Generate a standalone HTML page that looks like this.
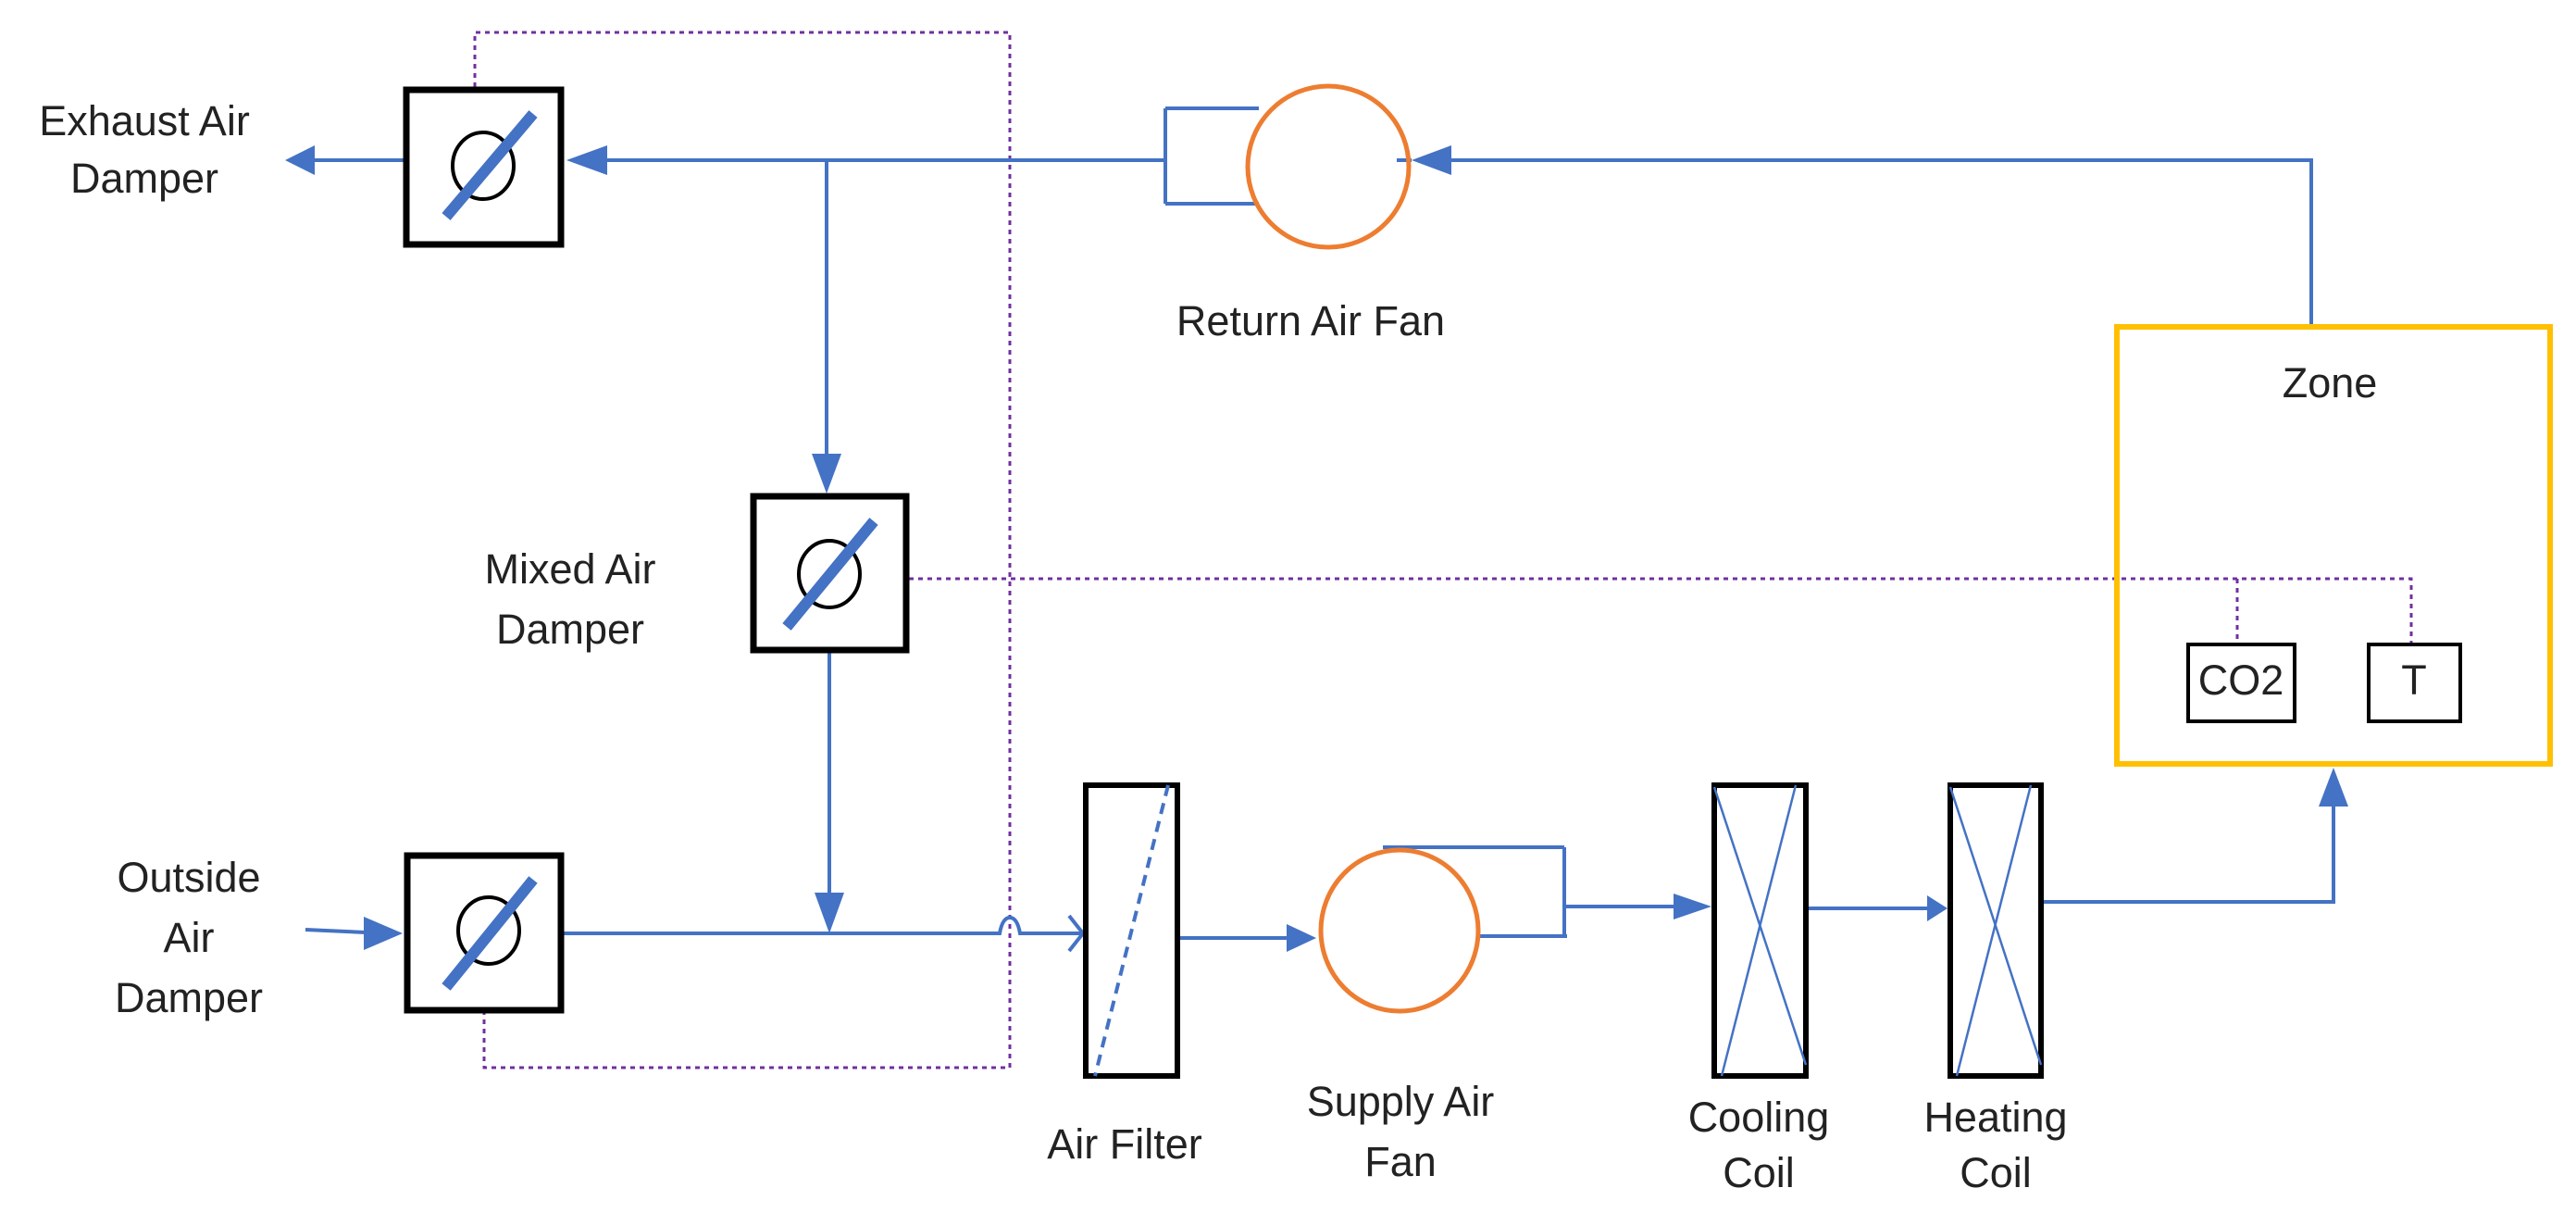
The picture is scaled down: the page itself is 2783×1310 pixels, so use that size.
<!DOCTYPE html>
<html><head><meta charset="utf-8"><style>
html,body{margin:0;padding:0;background:#fff}
svg{display:block}
text{font-family:"Liberation Sans",sans-serif;font-size:45px;fill:#222;text-anchor:middle;dominant-baseline:middle}
</style></head><body>
<svg width="2783" height="1310" viewBox="0 0 2783 1310" xmlns="http://www.w3.org/2000/svg">
<g fill="none" stroke="#7030A0" stroke-width="3" stroke-dasharray="5,5">
<polyline points="513,94 513,35 1091,35 1091,1153 523,1153 523,1094"/>
<polyline points="982,625 2605,625 2605,694"/>
<line x1="2417" y1="625" x2="2417" y2="694"/>
</g>
<g stroke="#4472C4" stroke-width="4" fill="none">
<line x1="337" y1="173" x2="436" y2="173"/>
<line x1="650" y1="173" x2="1259" y2="173"/>
<polyline points="1259,117 1259,220"/>
<line x1="1259" y1="117" x2="1360" y2="117"/>
<line x1="1259" y1="220" x2="1360" y2="220"/>
<line x1="893" y1="173" x2="893" y2="495"/>
<polyline points="1565,173 2497,173 2497,350"/>
<line x1="330" y1="1004" x2="395" y2="1007"/>
<line x1="896" y1="705" x2="896" y2="970"/>
<path d="M609,1008 H1080 Q1083,991 1091,991 Q1099,991 1102,1008 H1170"/>
<polyline points="1155,989 1170,1008 1155,1027"/>
<line x1="1275" y1="1013" x2="1390" y2="1013"/>
<line x1="1494" y1="915" x2="1690" y2="915"/>
<line x1="1690" y1="915" x2="1690" y2="1011"/>
<line x1="1598" y1="1011" x2="1693" y2="1011"/>
<line x1="1690" y1="979" x2="1812" y2="979"/>
<line x1="1954" y1="981" x2="2085" y2="981"/>
<polyline points="2208,974 2521,974 2521,865"/>
</g>
<g fill="#4472C4">
<polygon points="308,173 340,157 340,189"/>
<polygon points="612,173 656,157 656,189"/>
<polygon points="893,533 877,490 909,490"/>
<polygon points="1525,173 1568,157 1568,189"/>
<polygon points="435,1008 393,990 393,1026"/>
<polygon points="896,1008 880,964 912,964"/>
<polygon points="1422,1013 1390,998 1390,1028"/>
<polygon points="1849,979 1808,965 1808,993"/>
<polygon points="2104,981 2082,967 2082,995"/>
<polygon points="2521,829 2505,871 2537,871"/>
</g>
<g>
<rect x="439" y="97" width="167" height="167" fill="#fff" stroke="#000" stroke-width="7"/>
<ellipse cx="522" cy="179" rx="33" ry="36" fill="none" stroke="#000" stroke-width="4"/>
<line x1="576" y1="123" x2="482" y2="234" stroke="#4472C4" stroke-width="12"/>
<rect x="814" y="536" width="165" height="166" fill="#fff" stroke="#000" stroke-width="7"/>
<ellipse cx="896" cy="620" rx="33" ry="36" fill="none" stroke="#000" stroke-width="4"/>
<line x1="944" y1="563" x2="850" y2="677" stroke="#4472C4" stroke-width="12"/>
<rect x="440" y="924" width="166" height="167" fill="#fff" stroke="#000" stroke-width="7"/>
<ellipse cx="528" cy="1005" rx="33" ry="36" fill="none" stroke="#000" stroke-width="4"/>
<line x1="576" y1="950" x2="482" y2="1066" stroke="#4472C4" stroke-width="12"/>
</g>
<line x1="1509" y1="173" x2="1525" y2="173" stroke="#4472C4" stroke-width="4"/>
<ellipse cx="1435" cy="180" rx="87" ry="87" fill="none" stroke="#ED7D31" stroke-width="5"/>
<ellipse cx="1512" cy="1005" rx="85" ry="87" fill="none" stroke="#ED7D31" stroke-width="5"/>
<rect x="1173" y="848" width="99" height="314" fill="none" stroke="#000" stroke-width="6"/>
<line x1="1262" y1="848" x2="1183" y2="1162" stroke="#4472C4" stroke-width="4" stroke-dasharray="12,8"/>
<rect x="1852" y="848" width="99" height="314" fill="none" stroke="#000" stroke-width="6"/>
<line x1="1852" y1="850" x2="1951" y2="1150" stroke="#4472C4" stroke-width="2.5"/>
<line x1="1940" y1="848" x2="1860" y2="1162" stroke="#4472C4" stroke-width="2.5"/>
<rect x="2107" y="848" width="98" height="314" fill="none" stroke="#000" stroke-width="6"/>
<line x1="2107" y1="850" x2="2205" y2="1150" stroke="#4472C4" stroke-width="2.5"/>
<line x1="2194" y1="848" x2="2114" y2="1162" stroke="#4472C4" stroke-width="2.5"/>
<rect x="2287" y="353" width="468" height="472" fill="none" stroke="#FFC000" stroke-width="6"/>
<rect x="2364" y="696" width="115" height="83" fill="#fff" stroke="#000" stroke-width="4"/>
<rect x="2559" y="696" width="99" height="83" fill="#fff" stroke="#000" stroke-width="4"/>
<text x="2421" y="738">CO2</text>
<text x="2608" y="738">T</text>
<text x="2517" y="417">Zone</text>
<text x="156" y="134">Exhaust Air</text>
<text x="156" y="196">Damper</text>
<text x="1416" y="350">Return Air Fan</text>
<text x="616" y="618">Mixed Air</text>
<text x="616" y="683">Damper</text>
<text x="204" y="951">Outside</text>
<text x="204" y="1016">Air</text>
<text x="204" y="1081">Damper</text>
<text x="1215" y="1239">Air Filter</text>
<text x="1513" y="1193">Supply Air</text>
<text x="1513" y="1258">Fan</text>
<text x="1900" y="1210">Cooling</text>
<text x="1900" y="1270">Coil</text>
<text x="2156" y="1210">Heating</text>
<text x="2156" y="1270">Coil</text>
</svg>
</body></html>
